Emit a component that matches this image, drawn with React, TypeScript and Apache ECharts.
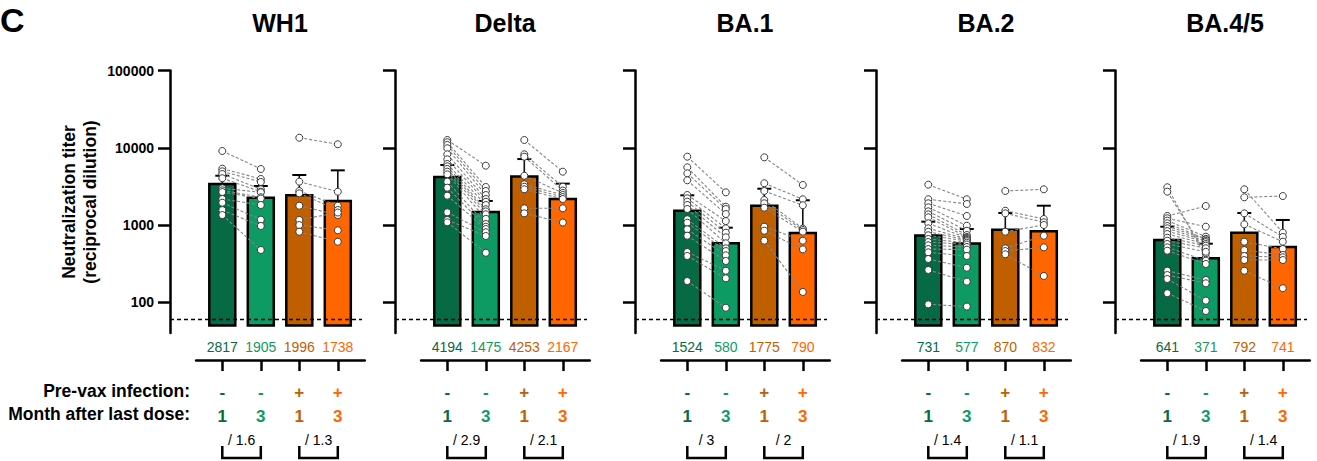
import React, { useEffect, useRef } from "react";
import * as echarts from "echarts";

// ---------------- data ----------------
const panelNames = ["WH1", "Delta", "BA.1", "BA.2", "BA.4/5"];
const groupSigns = ["-", "-", "+", "+"];
const monthLabels = ["1", "3", "1", "3"];
const yTickValues = [100, 1000, 10000, 100000];
const detectionLimit = 60;
const barBase = 50;

const gmLabels = [
  [2817, 1905, 1996, 1738],
  [4194, 1475, 4253, 2167],
  [1524, 580, 1775, 790],
  [731, 577, 870, 832],
  [641, 371, 792, 741],
];
const barHeights = [
  [3400, 2250, 2430, 2050],
  [4194, 1475, 4253, 2167],
  [1524, 580, 1775, 790],
  [731, 577, 870, 832],
  [641, 371, 792, 520],
];
const errorTops = [
  [4345, 3200, 4440, 5100],
  [5980, 2048, 7140, 3430],
  [2423, 923, 2950, 2090],
  [1104, 887, 1430, 1778],
  [951, 573, 1429, 1162],
];
const foldLabels = [
  ["/ 1.6", "/ 1.3"],
  ["/ 2.9", "/ 2.1"],
  ["/ 3", "/ 2"],
  ["/ 1.4", "/ 1.1"],
  ["/ 1.9", "/ 1.4"],
];

// individual donors (paired): no pre-vax infection, month 1 / month 3
const wh1NegM1 = [9080, 5360, 4950, 4570, 4030, 2990, 2810, 2670, 2170, 1945, 1560, 1345];
const wh1NegM3 = [5310, 3945, 3605, 2900, 2700, 2650, 2285, 2200, 1816, 1172, 971, 475];
const wh1PosM1 = [13490, 3640, 2755, 2570, 1778, 1162, 1000, 819];
const wh1PosM3 = [11090, 2700, 1778, 1563, 1345, 1450, 853, 608];

const deltaNegM1 = [12600, 11770, 10870, 9850, 8230, 7080, 6160, 5750, 5310, 4900, 4530, 3640, 3040, 2395, 1460, 1162, 1084];
const deltaNegM3 = [5860, 3105, 2755, 2445, 2170, 2000, 1816, 1600, 1500, 1377, 1200, 1030, 951, 887, 805, 721, 437];
const deltaPosM1 = [12600, 8230, 7660, 4345, 3365, 3130, 2900, 1645, 1416];
const deltaPosM3 = [4900, 3130, 2790, 2600, 2445, 2300, 2170, 1645, 1077];

const ba1NegM1 = [7660, 5580, 4670, 3790, 2445, 2217, 2005, 1816, 1611, 1185, 1072, 880, 727, 447, 397, 188];
const ba1NegM3 = [2650, 1725, 1611, 1387, 1125, 906, 795, 693, 580, 499, 460, 405, 342, 256, 204, 85];
const ba1PosM1 = [7520, 3470, 2755, 2108, 1910, 1676, 951, 844, 627];
const ba1PosM3 = [3300, 2155, 1800, 900, 861, 820, 627, 484, 136];

const ba2NegM1 = [3330, 2155, 1910, 1695, 1503, 1375, 1258, 1052, 906, 819, 736, 659, 602, 546, 489, 443, 363, 262, 94];
const ba2NegM3 = [2155, 1871, 1310, 980, 844, 742, 700, 680, 659, 640, 620, 590, 560, 520, 480, 397, 280, 185, 88];
const ba2PosM1 = [2755, 1531, 1416, 819, 499, 460, 418];
const ba2PosM3 = [2900, 1197, 1084, 1000, 727, 514, 219];

const ba45NegM1 = [3080, 2700, 1310, 1222, 1138, 1052, 971, 906, 835, 764, 685, 627, 568, 514, 465, 256, 225, 200, 131];
const ba45NegM3 = [382, 430, 1762, 951, 706, 659, 650, 621, 600, 568, 540, 500, 450, 345, 313, 194, 176, 105, 77];
const ba45PosM1 = [2900, 2285, 1416, 1021, 608, 474, 397, 352, 256];
const ba45PosM3 = [795, 2370, 700, 608, 489, 409, 382, 352, 152];

const donors = [
  [wh1NegM1, wh1NegM3, wh1PosM1, wh1PosM3],
  [deltaNegM1, deltaNegM3, deltaPosM1, deltaPosM3],
  [ba1NegM1, ba1NegM3, ba1PosM1, ba1PosM3],
  [ba2NegM1, ba2NegM3, ba2PosM1, ba2PosM3],
  [ba45NegM1, ba45NegM3, ba45PosM1, ba45PosM3],
];

// ---------------- styling / layout ----------------
const FONT = '"Liberation Sans", Arial, Helvetica, sans-serif';
const barColors = ["#066a44", "#0e9a63", "#c05f00", "#ff6600"];
const axisXs = [170, 395, 635, 876, 1115];
const firstBarOffset = 52.3;
const barSpacing = 38.5;
const plotTop = 70.5;
const plotHeight = 262.5;
const plotWidth = 192;
const catIdx = [0, 1, 2, 3];

function buildOption() {
  const grid: any[] = [];
  const xAxis: any[] = [];
  const yAxis: any[] = [];
  const series: any[] = [];
  const graphic: any[] = [];
  const n = panelNames.length;

  const plotMin = -firstBarOffset / barSpacing;
  const plotMax = plotMin + plotWidth / barSpacing;
  const labMin = -0.68;
  const labMax = 3.7;

  const richGM: any = {};
  const richCat: any = {};
  barColors.forEach((c, i) => {
    richGM["g" + i] = { color: c, fontSize: 14, fontFamily: FONT };
    richCat["s" + i] = { color: c, fontSize: 17, fontWeight: "bold", fontFamily: FONT, lineHeight: 24 };
    richCat["m" + i] = { color: c, fontSize: 17, fontWeight: "bold", fontFamily: FONT, lineHeight: 24 };
  });

  // plot grids 0..n-1
  for (let p = 0; p < n; p++) {
    const ax = axisXs[p];
    grid.push({ left: ax, top: plotTop, width: plotWidth, height: plotHeight });
    xAxis.push({
      type: "value",
      gridIndex: p,
      min: plotMin,
      max: plotMax,
      axisLine: { show: false, onZero: false },
      axisTick: { show: false },
      splitLine: { show: false },
      axisLabel: {
        customValues: catIdx,
        margin: 7,
        formatter: (v: number) => {
          const i = Math.round(v);
          return `{g${i}|${gmLabels[p][i]}}`;
        },
        rich: richGM,
      },
    });
    yAxis.push({
      type: "log",
      logBase: 10,
      gridIndex: p,
      min: 40,
      max: 100000,
      axisLine: { show: true, onZero: false, lineStyle: { color: "#000", width: 2.5 } },
      axisTick: { show: true, length: 12, lineStyle: { color: "#000", width: 2.5 }, customValues: yTickValues },
      minorTick: { show: false },
      splitLine: { show: false },
      axisLabel: {
        show: p === 0,
        customValues: yTickValues,
        margin: 16,
        fontSize: 14,
        fontWeight: "bold",
        color: "#000",
        fontFamily: FONT,
        formatter: (v: number) => String(Math.round(v)),
      },
    });
  }
  // label grids n..2n-1
  for (let p = 0; p < n; p++) {
    const ax = axisXs[p];
    const left = ax + firstBarOffset + labMin * barSpacing;
    const width = (labMax - labMin) * barSpacing;
    grid.push({ left, top: 330, width, height: 30 });
    xAxis.push({
      type: "value",
      gridIndex: n + p,
      min: labMin,
      max: labMax,
      position: "bottom",
      axisLine: { show: true, onZero: false, lineStyle: { color: "#000", width: 2.5 } },
      axisTick: { show: true, inside: false, length: 11, lineStyle: { color: "#000", width: 2.5 }, customValues: catIdx },
      splitLine: { show: false },
      axisLabel: {
        customValues: catIdx,
        margin: 20,
        formatter: (v: number) => {
          const i = Math.round(v);
          return `{s${i}|${groupSigns[i]}}\n{m${i}|${monthLabels[i]}}`;
        },
        rich: richCat,
      },
    });
    yAxis.push({ type: "value", gridIndex: n + p, min: 0, max: 1, show: false });
  }
  // bracket grids 2n..3n-1
  for (let p = 0; p < n; p++) {
    const ax = axisXs[p];
    const left = ax + firstBarOffset + labMin * barSpacing;
    const width = (labMax - labMin) * barSpacing;
    grid.push({ left, top: 446, width, height: 12 });
    xAxis.push({ type: "value", gridIndex: 2 * n + p, min: labMin, max: labMax, show: false });
    yAxis.push({ type: "value", gridIndex: 2 * n + p, min: 0, max: 1, show: false });
  }

  for (let p = 0; p < n; p++) {
    // bars
    series.push({
      type: "custom",
      xAxisIndex: p,
      yAxisIndex: p,
      z: 1,
      silent: true,
      data: barHeights[p].map((v, i) => [i, v]),
      renderItem: (params: any, api: any) => {
        const i = params.dataIndex;
        const top = api.coord([api.value(0), api.value(1)]);
        const base = api.coord([api.value(0), barBase]);
        return {
          type: "rect",
          shape: { x: top[0] - 13, y: top[1], width: 26, height: base[1] - top[1] },
          style: { fill: barColors[i], stroke: "#000", lineWidth: 2.5 },
        };
      },
    });
    // error bars
    series.push({
      type: "custom",
      xAxisIndex: p,
      yAxisIndex: p,
      z: 2,
      silent: true,
      data: errorTops[p].map((e, i) => [i, barHeights[p][i], e]),
      renderItem: (params: any, api: any) => {
        const x = api.value(0);
        const a = api.coord([x, api.value(1)]);
        const b = api.coord([x, api.value(2)]);
        return {
          type: "group",
          children: [
            { type: "line", shape: { x1: a[0], y1: a[1], x2: b[0], y2: b[1] }, style: { stroke: "#111", lineWidth: 1.6 } },
            { type: "line", shape: { x1: b[0] - 7, y1: b[1], x2: b[0] + 7, y2: b[1] }, style: { stroke: "#000", lineWidth: 2 } },
          ],
        };
      },
    });
    // paired lines
    const d = donors[p];
    const pairs: number[][] = [];
    [[0, 1], [2, 3]].forEach(([g0, g1]) => {
      const a = d[g0];
      const b = d[g1];
      const m = Math.min(a.length, b.length);
      for (let k = 0; k < m; k++) pairs.push([g0, a[k], g1, b[k]]);
    });
    series.push({
      type: "custom",
      xAxisIndex: p,
      yAxisIndex: p,
      z: 3,
      silent: true,
      data: pairs,
      renderItem: (params: any, api: any) => {
        const a = api.coord([api.value(0), api.value(1)]);
        const b = api.coord([api.value(2), api.value(3)]);
        return {
          type: "line",
          shape: { x1: a[0], y1: a[1], x2: b[0], y2: b[1] },
          style: { stroke: "#858585", lineWidth: 1.1, lineDash: [3, 2] },
        };
      },
    });
    // points
    const pts: number[][] = [];
    d.forEach((arr, g) => arr.forEach((v) => pts.push([g, v])));
    series.push({
      type: "scatter",
      xAxisIndex: p,
      yAxisIndex: p,
      z: 4,
      silent: true,
      symbol: "circle",
      symbolSize: 7,
      itemStyle: { color: "#fff", borderColor: "#3a3a3a", borderWidth: 1, opacity: 1 },
      data: pts,
      markLine: {
        silent: true,
        symbol: ["none", "none"],
        label: { show: false },
        lineStyle: { color: "#000", type: [4, 3], width: 1.3 },
        data: [{ yAxis: detectionLimit }],
      },
    });
    // brackets with fold change
    series.push({
      type: "custom",
      xAxisIndex: 2 * n + p,
      yAxisIndex: 2 * n + p,
      z: 5,
      silent: true,
      data: [
        [0, 1],
        [2, 3],
      ],
      renderItem: (params: any, api: any) => {
        const x0 = api.value(0);
        const x1 = api.value(1);
        const t0 = api.coord([x0, 1]);
        const b0 = api.coord([x0, 0]);
        const b1 = api.coord([x1, 0]);
        const t1 = api.coord([x1, 1]);
        return {
          type: "group",
          children: [
            {
              type: "polyline",
              shape: { points: [t0, b0, b1, t1] },
              style: { stroke: "#000", lineWidth: 2.5, fill: "none" },
            },
            {
              type: "text",
              style: {
                text: foldLabels[p][params.dataIndex],
                x: (t0[0] + t1[0]) / 2,
                y: t0[1] - 6,
                align: "center",
                verticalAlign: "middle",
                fontSize: 14,
                fontFamily: FONT,
                fill: "#000",
              },
            },
          ],
        };
      },
    });
    // panel title
    graphic.push({
      type: "text",
      x: axisXs[p] + firstBarOffset + 1.5 * barSpacing,
      y: 23,
      style: {
        text: panelNames[p],
        align: "center",
        verticalAlign: "middle",
        fontSize: 25,
        fontWeight: "bold",
        fontFamily: FONT,
        fill: "#000",
      },
    });
  }

  graphic.push({
    type: "text",
    x: 0,
    y: 20,
    style: { text: "C", align: "left", verticalAlign: "middle", fontSize: 34, fontWeight: "bold", fontFamily: FONT, fill: "#000" },
  });
  graphic.push({
    type: "text",
    x: 79,
    y: 202,
    rotation: Math.PI / 2,
    style: {
      text: "Neutralization titer\n(reciprocal dilution)",
      align: "center",
      verticalAlign: "middle",
      fontSize: 17.5,
      lineHeight: 21,
      fontWeight: "bold",
      fontFamily: FONT,
      fill: "#000",
    },
  });
  graphic.push({
    type: "text",
    x: 190,
    y: 391,
    style: { text: "Pre-vax infection:", align: "right", verticalAlign: "middle", fontSize: 17.5, fontWeight: "bold", fontFamily: FONT, fill: "#000" },
  });
  graphic.push({
    type: "text",
    x: 190,
    y: 414,
    style: { text: "Month after last dose:", align: "right", verticalAlign: "middle", fontSize: 17.5, fontWeight: "bold", fontFamily: FONT, fill: "#000" },
  });

  return {
    animation: false,
    backgroundColor: "#fff",
    textStyle: { fontFamily: FONT },
    grid,
    xAxis,
    yAxis,
    series,
    graphic,
  };
}

export default function App() {
  const ref = useRef<HTMLDivElement>(null);
  useEffect(() => {
    if (!ref.current) return;
    const chart = echarts.init(ref.current, undefined, { renderer: "svg" });
    chart.setOption(buildOption() as any);
    return () => chart.dispose();
  }, []);
  return (
    <div
      ref={ref}
      style={{ position: "fixed", left: 0, top: 0, width: 1317, height: 461, background: "#fff" }}
    />
  );
}
